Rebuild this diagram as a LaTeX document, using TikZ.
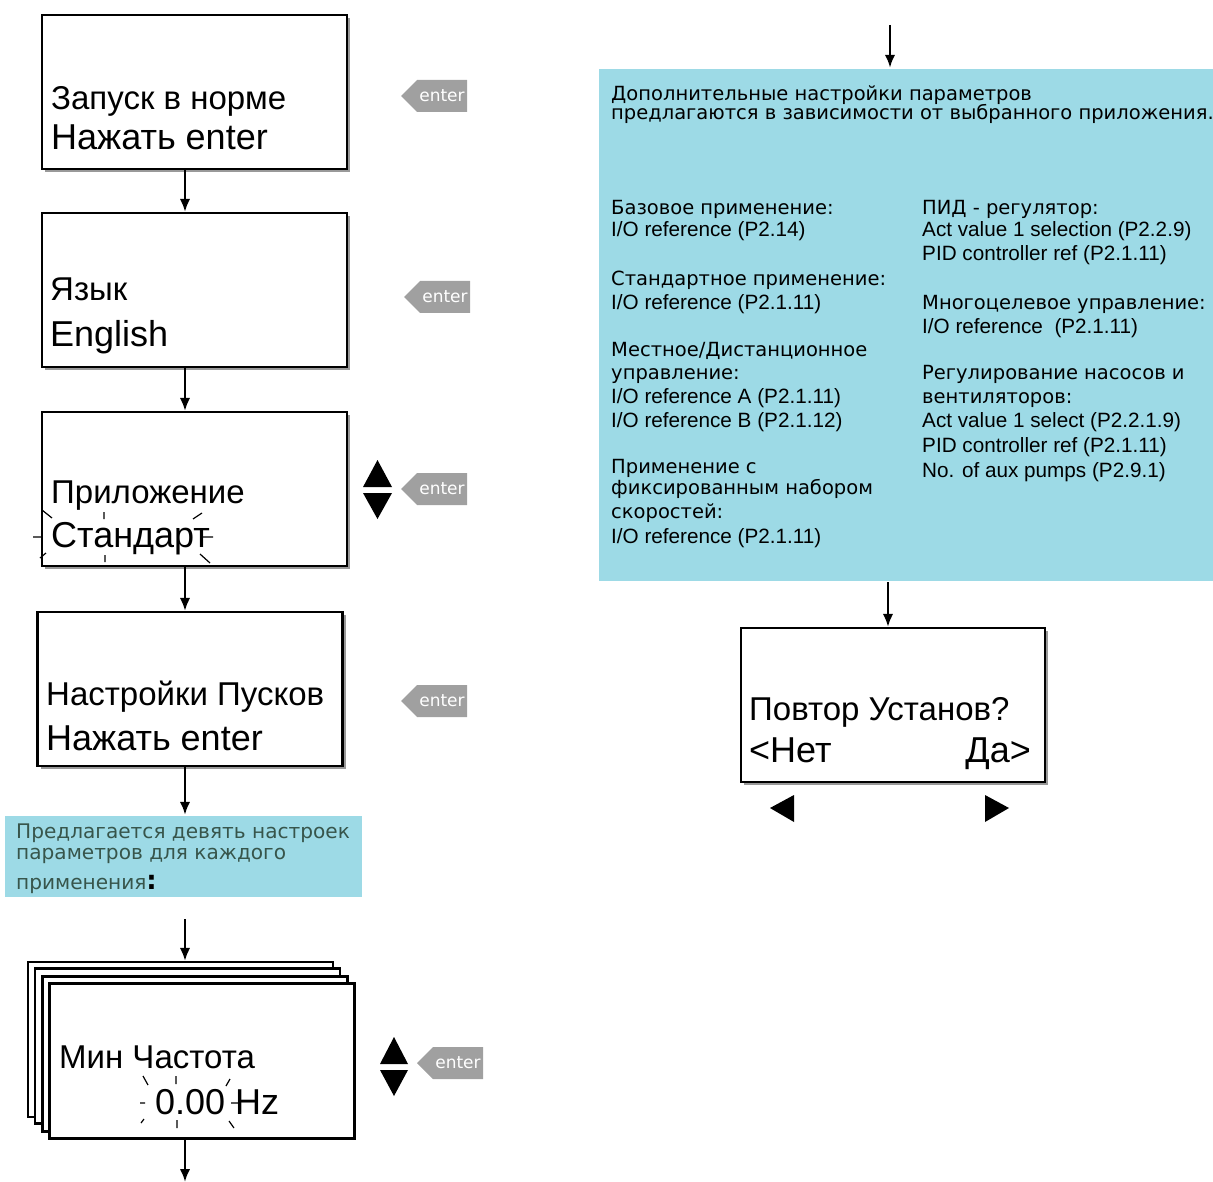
\documentclass[tikz,border=0pt]{standalone}
\usepackage{fontspec}
\setmainfont{Liberation Sans}
\newfontfamily\dejavu{DejaVu Sans}
\usetikzlibrary{arrows.meta, shapes.symbols, shadows}

\definecolor{infoblue}{RGB}{157,218,230}
\definecolor{keygray}{RGB}{160,160,160}
\definecolor{hinttext}{RGB}{55,85,75}

\begin{document}
\begin{tikzpicture}[x=1pt, y=-1pt, >={Latex[length=13pt,width=10.5pt]}, line width=2.4pt,
	lcd/.style={draw, fill=white, line width=2.2pt, minimum width=305pt, minimum height=154pt, inner sep=0pt,
		drop shadow={shadow xshift=3pt, shadow yshift=-3pt, fill=gray!80, opacity=1}},
	card/.style={draw, fill=white, line width=2.2pt, minimum width=305pt, minimum height=155pt, inner sep=0pt},
	upper/.style={anchor=base west, inner sep=0pt, font=\fontsize{33}{33}\selectfont},
	lower/.style={anchor=base west, inner sep=0pt, font=\fontsize{36}{36}\selectfont},
	key/.style={signal, signal to=west, fill=keygray, text=white, minimum height=32pt, minimum width=66pt,
		inner xsep=1pt, font=\dejavu\fontsize{17}{17}\selectfont},
	infobox/.style={fill=infoblue, inner sep=0pt},
	head/.style={anchor=base west, inner sep=0pt, font=\dejavu\fontsize{19.5}{19.5}\selectfont},
	hintline/.style={anchor=base west, inner sep=0pt, text=hinttext, font=\dejavu\fontsize{20.1}{20.1}\selectfont},
	ioref/.style={anchor=base west, inner sep=0pt, font=\fontsize{20.7}{20.7}\selectfont},
	blink/.style={line width=1.2pt}]

	\useasboundingbox (0,0) rectangle (1213,1182);
	\coordinate (col) at (185,0);
	\coordinate (rcol) at (888,0);

	% left column: displays
	\node[lcd] (start) at (194.5,92) {};
	\node[upper] (startA) at (50,110) {Запуск в норме};
	\node[lower] (startB) at (50,150) {Нажать enter};
	\node[key] (k1) at (442,96) {enter};

	\node[lcd] (lang) at (194.5,290) {};
	\node[upper] (langA) at (49,301) {Язык};
	\node[lower] (langB) at (49,346) {English};
	\node[key] (k2) at (445,297) {enter};

	\node[lcd] (app) at (194.5,489) {};
	\node[upper] (appA) at (50,503) {Приложение};
	\node[lower] (appB) at (50,547) {Стандарт};
	\node[key] (k3) at (442,489) {enter};
	\fill (363,487) -- (392,487) -- (377.5,460) -- cycle;
	\fill (363,493) -- (392,493) -- (377.5,519) -- cycle;
	\draw[blink] (42,510) -- (52,518) (104,512) -- (104,519) (193,519) -- (202,513)
		(33,537) -- (42,537) (200,537) -- (213,537)
		(40,558) -- (46,553) (105,555) -- (105,562) (200,554) -- (210,563);

	\node[lcd] (wiz) at (190,689) {};
	\node[upper] (wizA) at (45,705) {Настройки Пусков};
	\node[lower] (wizB) at (45,750) {Нажать enter};
	\node[key] (k4) at (442,701) {enter};

	\node[infobox, minimum width=357pt, minimum height=81pt] (hint) at (183.5,856.5) {};
	\node[hintline] (hintA) at (15,838) {Предлагается девять настроек};
	\node[hintline] (hintB) at (15,859) {параметров для каждого};
	\node[hintline] (hintC) at (15,889) {применения{\color{black}\bfseries\fontsize{26}{26}\selectfont :}};

	% stack of parameter displays
	\node[card] (p1) at (180.5,1039.5) {};
	\node[card] (p2) at (187.5,1046) {};
	\node[card] (p3) at (195,1054) {};
	\node[card] (p4) at (202,1061) {};
	\node[upper] (parA) at (58,1068) {Мин Частота};
	\node[lower] (parB) at (154,1114) {0.00 Hz};
	\node[key] (k5) at (458,1063) {enter};
	\fill (380,1064) -- (408,1064) -- (394,1037) -- cycle;
	\fill (380,1070) -- (408,1070) -- (394,1096) -- cycle;
	\draw[blink] (143,1076) -- (148,1085) (176,1076) -- (176,1084) (226,1086) -- (230,1079)
		(140,1103) -- (145,1103) (231,1103) -- (238,1103)
		(141,1123) -- (144,1119) (177,1120) -- (177,1128) (229,1121) -- (234,1128);
	\coordinate (out) at (185,1182);

	% right column
	\coordinate (rin) at (890,25);
	\node[infobox, minimum width=614pt, minimum height=512pt] (extra) at (906,325) {};
	\node[head] (introA) at (610,101) {Дополнительные настройки параметров};
	\node[head] (introB) at (610,120) {предлагаются в зависимости от выбранного приложения.};
	\foreach \y/\t in {215/{Базовое применение:}, 286/{Стандартное применение:},
			356/{Местное/Дистанционное}, 379/{управление:}, 473/{Применение с},
			494/{фиксированным набором}, 518/{скоростей:}}
		\node[head] (appl\y) at (610,\y) {\t};
	\foreach \y/\t in {237/{I/O reference (P2.14)}, 310/{I/O reference (P2.1.11)},
			403/{I/O reference A (P2.1.11)}, 427/{I/O reference B (P2.1.12)}, 543/{I/O reference (P2.1.11)}}
		\node[ioref] (refl\y) at (610,\y) {\t};
	\foreach \y/\t in {215/{ПИД - регулятор:}, 310/{Многоцелевое управление:},
			379/{Регулирование насосов и}, 403/{вентиляторов:}}
		\node[head] (appr\y) at (921,\y) {\t};
	\foreach \y/\t in {237/{Act value 1 selection (P2.2.9)}, 261/{PID controller ref (P2.1.11)},
			334/{I/O reference \ (P2.1.11)}, 427/{Act value 1 select (P2.2.1.9)},
			452/{PID controller ref (P2.1.11)}, 477/{No. of aux pumps (P2.9.1)}}
		\node[ioref] (refr\y) at (921,\y) {\t};

	\node[lcd, minimum width=304pt] (again) at (893,705) {};
	\node[upper] (againA) at (748,720) {Повтор Установ?};
	\node[lower] (againB) at (748,762) {<Нет};
	\node[lower, anchor=base east] (againC) at (1032,762) {Да>};
	\fill (770,808) -- (794,795) -- (794,822) -- cycle;
	\fill (1009,808) -- (985,795) -- (985,822) -- cycle;

	% arrows
	\draw[->] (start.south -| col) -- (lang.north -| col);
	\draw[->] (lang.south -| col) -- (app.north -| col);
	\draw[->] (app.south -| col) -- (wiz.north -| col);
	\draw[->] (wiz.south -| col) -- (hint.north -| col);
	\draw[->, shorten <=21pt] (hint.south -| col) -- (p1.north -| col);
	\draw[->] (p4.south -| col) -- (out);
	\draw[->] (rin) -- (extra.north -| rin);
	\draw[->] (extra.south -| rcol) -- (again.north -| rcol);
\end{tikzpicture}
\end{document}
